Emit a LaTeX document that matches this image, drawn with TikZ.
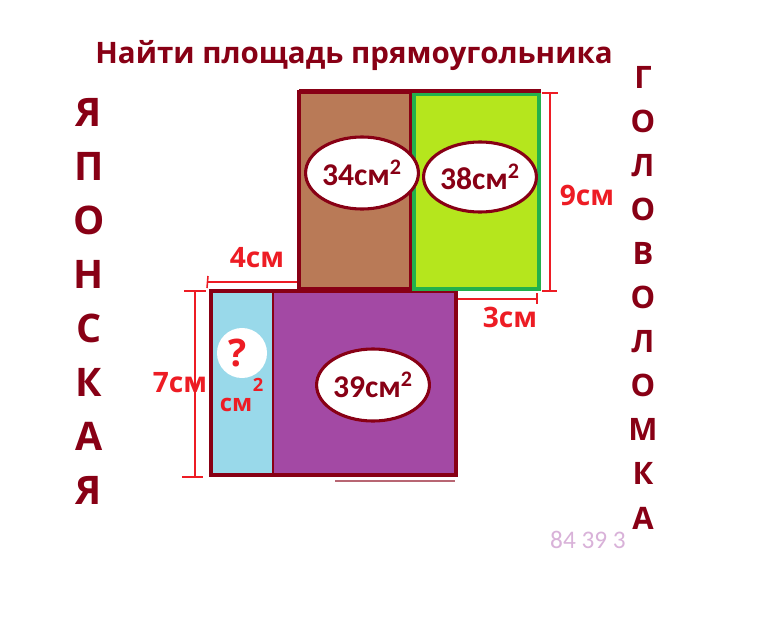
\documentclass[tikz,border=0pt]{standalone}
\usepackage{fontspec}
\setmainfont{Open Sans}
\newfontfamily\calfont{Carlito}
\usetikzlibrary{shapes.geometric}
\definecolor{darkred}{HTML}{880015}
\definecolor{pencilred}{HTML}{ED1C24}
\definecolor{brownfill}{HTML}{B97A57}
\definecolor{limefill}{HTML}{B5E61D}
\definecolor{greenline}{HTML}{22B14C}
\definecolor{bluefill}{HTML}{99D9EA}
\definecolor{purplefill}{HTML}{A349A4}
\tikzset{
	areaoval/.style={ellipse, draw=darkred, line width=2.2pt, fill=white, inner sep=0pt, text=darkred, font=\calfont\bfseries\fontsize{22.5}{22.5}\selectfont},
	sideletter/.style={text=darkred, inner sep=0pt, font=\bfseries\fontsize{#1}{#1}\selectfont},
	sizelabel/.style={text=pencilred, inner sep=0pt, font=\bfseries\fontsize{20}{20}\selectfont},
	sizeline/.style={draw=pencilred, line width=1.1pt}
}

\begin{document}
\begin{tikzpicture}[x=0.025cm, y=-0.025cm]
		%%%%% START %%%%%
		\useasboundingbox[fill=white] (0, 0) rectangle (763, 638);
		
		\node[sideletter=21, anchor=base] (title) at (354, 63) {Найти площадь прямоугольника};
		
		% lower rectangle
		\fill[bluefill] (211, 291) rectangle (273, 475);
		\fill[purplefill] (273, 291) rectangle (456, 475);
		\draw[line width=3.5pt, draw=darkred] (211, 291) rectangle (456, 475);
		\draw[line width=2pt, draw=darkred] (273, 291) -- (273, 475);
		\draw[line width=1pt, draw=darkred!60] (335, 481) -- (455, 481);
		
		% upper rectangle
		\draw[fill=brownfill, line width=3.5pt, draw=darkred] (299, 92) rectangle (411, 289);
		\draw[fill=limefill, line width=3.5pt, draw=greenline] (414, 94) rectangle (539, 289);
		\draw[line width=3pt, draw=darkred] (299, 91) -- (541, 91);
		
		\node[areaoval, minimum width=2.4cm, minimum height=1.8cm] (s34) at (362, 173) {34см\textsuperscript{2}};
		\node[areaoval, minimum width=2.75cm, minimum height=1.75cm] (s38) at (480, 177) {38см\textsuperscript{2}};
		\node[areaoval, minimum width=2.65cm, minimum height=1.8cm] (s39) at (373, 385) {39см\textsuperscript{2}};
		
		\node[circle, fill=white, minimum size=1.25cm, inner sep=0pt] (ask) at (242, 353) {};
		\node[text=pencilred, inner sep=0pt, font=\bfseries\fontsize{27}{27}\selectfont] (qmark) at (238, 353) {?};
		\node[sizelabel, font=\bfseries\fontsize{17}{17}\selectfont] (unit) at (236, 405) {см};
		\node[sizelabel, font=\bfseries\fontsize{13}{13}\selectfont] (sq) at (258, 385) {2};
		
		% sizes
		\draw[sizeline] (550, 93) -- (550, 291);
		\draw[sizeline] (542, 93) -- (558, 93);
		\draw[sizeline] (542, 291) -- (557, 291);
		\node[sizelabel] (h9) at (587, 195) {9см};
		
		\draw[sizeline] (208, 282) -- (297, 282);
		\draw[sizeline] (208, 276) -- (207, 288);
		\node[sizelabel] (w4) at (257, 258) {4см};
		
		\draw[sizeline] (195, 291) -- (195, 477);
		\draw[sizeline] (184, 291) -- (206, 291);
		\draw[sizeline] (182, 477) -- (203, 477);
		\node[sizelabel] (h7) at (180, 383) {7см};
		
		\draw[sizeline] (458, 299) -- (537, 299);
		\draw[sizeline] (537, 293) -- (537, 304);
		\node[sizelabel] (w3) at (510, 317) {3см};
		
		% words down the sides
		\foreach \ch [count=\i] in {Я,П,О,Н,С,К,А,Я}
			\node[sideletter=28] (jp\i) at (89, {112+54*(\i-1)}) {\ch};
		\foreach \ch [count=\i] in {Г,О,Л,О,В,О,Л,О,М,К,А}
			\node[sideletter=22] (gl\i) at (643, {77+44.1*(\i-1)}) {\ch};
		
		\node[text=violet!30, font=\calfont\fontsize{18}{18}\selectfont] (code) at (588, 540) {84 39 3};
		%%%%% END %%%%%
	\end{tikzpicture}
\end{document}
